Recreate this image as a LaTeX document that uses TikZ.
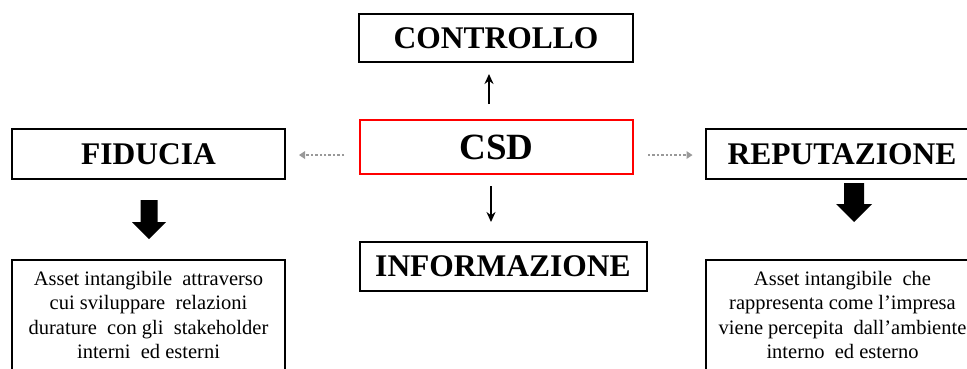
\documentclass[tikz,border=0pt]{standalone}
\usepackage{fontspec}
\setmainfont{Liberation Serif}
\usetikzlibrary{arrows.meta,calc}
\begin{document}
\begin{tikzpicture}[x=1pt,y=-1pt,
  titlebox/.style={draw=black,line width=2pt,fill=white,inner sep=0pt,
    font=\fontsize{31.5}{36}\selectfont\bfseries},
  descbox/.style={draw=black,line width=2pt,fill=white,inner sep=0pt,align=center,
    minimum width=273pt,minimum height=110pt,
    font=\fontsize{20.5}{24.5}\selectfont},
  thinarrow/.style={line width=2pt,-{Stealth[length=10pt,width=9pt]}},
  dotarrow/.style={draw=gray!80,line width=2.4pt,dotted,-{Triangle[length=6pt,width=8pt,fill=gray!80,line width=0pt,sep=0pt]}},
  blockarrow/.style={fill=black}
]
\useasboundingbox (0,0) rectangle (967,368);
\begin{scope}
\clip (0,0) rectangle (967,368);
\node[titlebox,minimum width=274pt,minimum height=48pt] (ctrl) at (496,38) {CONTROLLO};
\node[titlebox,draw=red,minimum width=273pt,minimum height=54pt,font=\fontsize{37}{40}\selectfont\bfseries] (csd) at (496.5,147) {CSD};
\node[titlebox,minimum width=273pt,minimum height=50pt] (fid) at (148.5,154) {FIDUCIA};
\node[titlebox,minimum width=273pt,minimum height=50pt] (rep) at (842,154) {REPUTAZIONE};
\node[titlebox,minimum width=287pt,minimum height=49pt] (info) at (503,266.5) {INFORMAZIONE};
\node[descbox] (fidtxt) at (148.5,315) {Asset intangibile\ \ attraverso\\cui sviluppare\ \ relazioni\\durature\ \ con gli\ \ stakeholder\\interni\ \ ed esterni};
\node[descbox] (reptxt) at (842.5,315) {Asset intangibile\ \ che\\rappresenta come l'impresa\\viene percepita\ \ dall'ambiente\\interno\ \ ed esterno};
\end{scope}
% thin arrows
\draw[thinarrow] ($(csd.north)+(-7.5,-15)$) -- ($(ctrl.south)+(-7,11)$);
\draw[thinarrow] ($(csd.south)+(-5.5,11)$) -- ($(info.north)+(-12,-19)$);
% dotted arrows
\coordinate (cl) at ($(csd.west)+(-15,8)$);
\coordinate (cr) at ($(csd.east)+(14,8)$);
\draw[dotarrow] (cl) -- (fid.east |- cl) [shorten >=13pt];
\draw[dotarrow] (cr) -- (rep.west |- cr) [shorten >=12pt];
% block arrows
\fill[blockarrow] (140.5,200) -- (157.5,200) -- (157.5,222) -- (166,222) -- (149,239) -- (132,222) -- (140.5,222) -- cycle;
\fill[blockarrow] (844,183) -- (864,183) -- (864,204) -- (872,204) -- (854,222) -- (836,204) -- (844,204) -- cycle;
\end{tikzpicture}
\end{document}
